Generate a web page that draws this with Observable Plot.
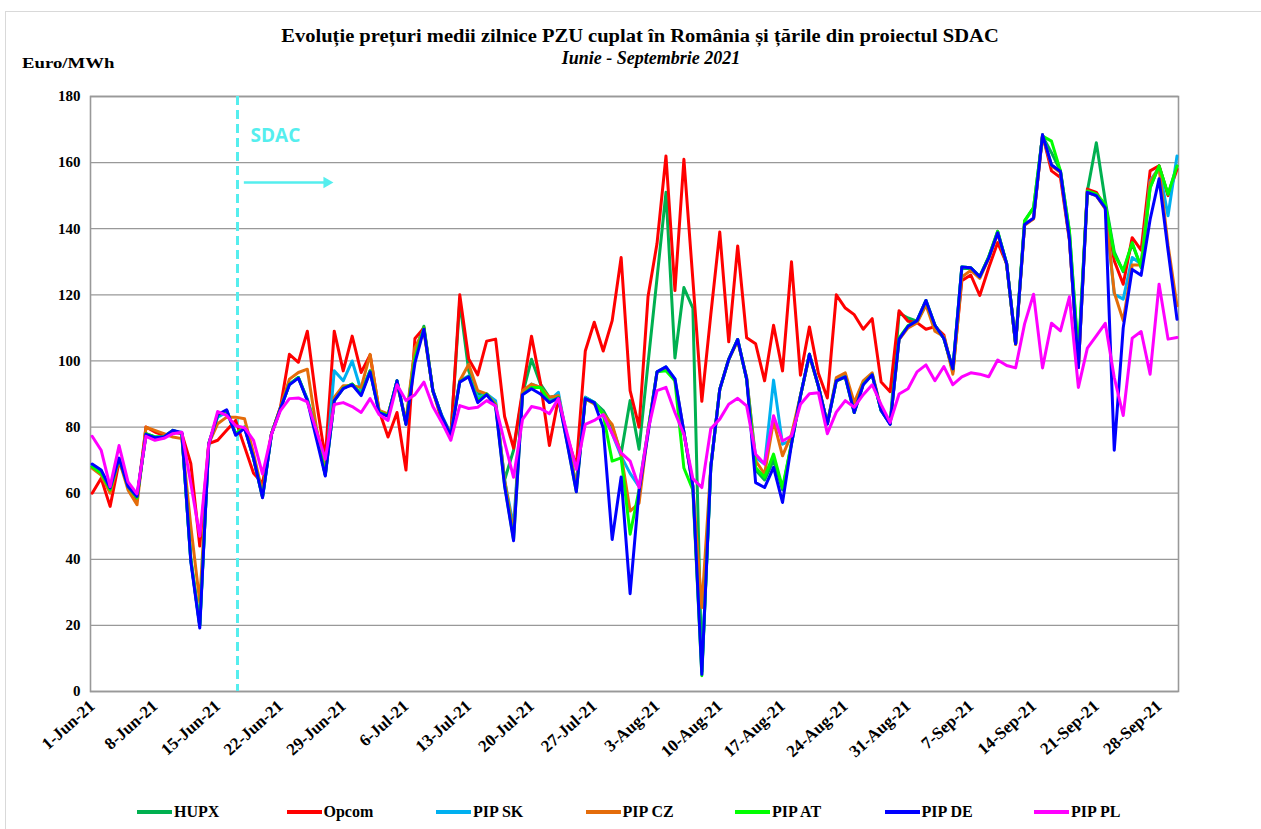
<!DOCTYPE html>
<html><head><meta charset="utf-8">
<script src="https://cdn.jsdelivr.net/npm/d3@7"></script>
<script src="https://cdn.jsdelivr.net/npm/@observablehq/plot@0.6"></script>
<style>
body{margin:0;background:#fff;width:1261px;height:829px;overflow:hidden;position:relative;font-family:"Liberation Serif","Times New Roman",serif;color:#000;}
#border{position:absolute;left:5px;top:11px;width:1300px;height:900px;border:1px solid #d9d9d9;}
#title{position:absolute;left:0;width:1280px;top:26px;text-align:center;font-weight:bold;font-size:18px;line-height:20px;transform:scaleX(1.14);transform-origin:640px 0;}
#subtitle{position:absolute;left:0;width:1302px;top:48px;text-align:center;font-weight:bold;font-style:italic;font-size:18px;line-height:20px;}
#unit{position:absolute;left:22px;top:55px;font-weight:bold;font-size:15px;transform:scaleX(1.25);transform-origin:0 0;}
#chart{position:absolute;left:0;top:80px;}
#legend{position:absolute;left:137px;top:803px;display:flex;}
.item{width:149.5px;display:flex;align-items:center;font-weight:bold;font-size:16px;}
.sw{width:35px;height:4px;margin-right:2px;}
</style>
</head><body>
<div id="border"></div>
<div id="title">Evoluție prețuri medii zilnice PZU cuplat în România și țările din proiectul SDAC</div>
<div id="subtitle">Iunie - Septembrie 2021</div>
<div id="unit">Euro/MWh</div>
<div id="chart"></div>
<div id="legend"></div>
<script>
// Daily prices, 1 Jun 2021 – 30 Sep 2021 (122 days), Euro/MWh
const startDate = "2021-06-01";
const endDate = "2021-10-01";

const HUPX = [68,66.5,61,70.5,62,58.5,78,77,77,79,78,40,20,75,83.5,85,78,80,70.5,58.8,
78,85.6,93,95,88.2,79,65.5,88,91.8,93,90,97,84.6,83.5,94,81,103,110.5,91,83.2,
77.5,118,97,90,90,87,64,73,90,100.5,93,89,89.5,76,62,89,87.5,85,80,72,
88,73.3,99.3,125,151,100.9,122.2,116,6,68,91.4,100.5,106.5,94.5,67,64,70,61,75,89.4,
102,92.4,81,94,95.2,84.4,93,95.8,85,81,114.5,113,112,117,110.8,106.8,97,128,128,125.5,
131.5,139.2,129.4,105.2,142.4,146.4,168,163,157.5,139,101,151.4,166,148.4,133,127,135.5,128.3,152.4,159,
150.4,159];

const Opcom = [60,64.5,56,69.5,63,58,80,78.5,77.5,78.5,78,69,44,75,76,79,82,74,66,63,
78,86,102,99.6,109,88,70.5,109,97,107.5,96.5,101.8,85,77,84.4,67,106.8,110,91,82,
77,120,100.6,95.8,106,106.6,83.2,73.6,91,107.5,93.4,74.4,88.6,77,68,103,111.7,103,112.2,131.3,
91,80,119.5,135.5,162,121.3,161,124.5,87.8,114,139,105.8,134.8,107,105.2,94,110.8,97,130,95.7,
110.3,96.3,88.8,120,116,114,109.6,112.8,93.6,90.7,115.2,112,111.6,109.6,110.4,107.8,96.7,124.3,126,119.8,
128.2,135.8,129.4,105,141.4,143,168.4,157.5,155.5,136.5,98,152,151,146.4,130.3,123.2,137.3,133.5,157.5,159,
150,158];

const PIP_SK = [68.5,66.5,61,70.5,62,59,77.5,77,77,79,78,39.5,20,75,83,84.5,78,80,70.5,59,
78,85.5,93,95,88.5,79,65.5,97,94,100,91,97,85,83.5,94,81,103,109.5,91,83.5,
78,94,95.5,89,90,88,64,50,90,93,92,88,90.5,76,62,89,87.5,84,78,71.2,
66,62,79,96.7,98.2,94.6,78.5,62.2,6,68,91.4,100.5,106.5,94.5,70.8,68.8,94.2,74.8,76,89.4,
102,92.4,81,94.5,95.5,85,93,96,85,81,106.6,110.5,112.2,118.3,110.8,106.8,97.6,128.4,128.2,125.5,
131.2,138.8,129.4,105.2,141.3,143.2,168.4,159.3,157.3,137,98,151,150,146.3,120.2,118.7,131.3,129.3,154.5,158.5,
143.9,162];

const PIP_CZ = [67.5,65.5,60,70,61,56.5,80,79,78,77,76.5,50,27,75,81,83,83,82.5,72,60,
78,86,94.5,96.5,97.5,80,67,89,92.5,92.5,92,102,85,84,93,82,104,109,91,83,
78,94,99,91,90,87,64,48,91,93,92,89,89.5,76,62,88.5,87,84,80.8,71.7,
54.6,57,79,96.5,98,94,78.5,62,25.4,68,91.4,100.5,106,95,69.8,65.8,81.9,71.3,77.8,89.5,
101.5,92.5,81,95,96.4,87.4,94,96.4,85.5,81,106.5,110,111.5,117,109,107.4,96,125.4,127.4,125,
131,138.5,129,105,141,143,168,159,157,137,98,151,150,146,120.7,112.2,129,129,154,158.5,
135,116.7];

const PIP_AT = [68,66,61,70.5,62,58.5,78,77,77,79,78,40,20,75,83.5,85,78,80,70.5,58.8,
78,85.6,93,95,88.2,79,65.5,88,91.8,93,90,97,84.6,83.5,94,81,101,110,91,83.2,
77.5,93.8,95.3,88,90,86.5,62.5,46,89.8,92,92,87.5,89,75,60.5,88.6,87.4,83.8,69.7,70.7,
47.6,61,79,96.7,97,94,67.6,61,4.8,68,91.4,100.5,106.5,94.5,67.8,64.8,71.8,61.7,75,89.4,
102,92.4,81,94,95.2,84.4,93,95.8,85,81,107,110.7,112.2,118.3,110.8,106.8,97.6,128.4,128.2,125.5,
131.5,139.2,129.4,105.2,142.4,146.4,168,166.5,157.5,139.4,102,151.4,150.5,147.4,132.3,127.3,135.8,128.3,152.4,159,
150.4,159];

const PIP_DE = [68.8,67,61.6,70.6,62,59,77.8,76.8,77,79,78.4,39.4,19.2,74.8,83.8,85.2,77.5,79.6,70.6,58.6,
77.8,85.6,92.8,94.8,88,76.6,65.2,88,91.6,92.8,89.5,96.7,84.4,83.2,94,80.8,99.4,109.6,91,83.2,
77.5,93.6,95.2,87.4,89.8,86.2,62.2,45.6,89.8,91.6,90,87.4,88.8,74.8,60.4,88.6,87.4,79.8,46,64.9,
29.6,60.7,78,96.7,98.2,94.6,78.5,62.2,5.2,67.8,91.4,100.5,106.5,94.5,63.2,61.7,67.8,57.2,74.8,89.4,
102,92.4,80.9,94,95.2,84.4,92.8,95.8,85,80.8,106.6,110.5,112.2,118.3,110.8,106.8,97.6,128.4,128.2,125.5,
131.2,138.8,129.4,105.2,141.3,143.2,168.4,159.3,157.3,137,98,151,150,146.3,73,110,127.7,125.9,142.8,155.1,
133.5,112.6];

const PIP_PL = [77.2,73,62,74.4,63.4,59.8,77.2,76,76.6,78,78.4,63,47,74.8,84.7,83.5,80.4,79.8,76,65.8,
77.8,85,88.6,88.8,87.6,79,70.3,86.8,87.4,86.2,84.4,88.6,83.8,82,92.8,88,89.8,93.6,86.2,81.4,
76,86.5,85.6,86,88,86.4,75.4,64.8,82.3,86.2,85.6,84,88.6,77.8,67.2,80.8,82,83.8,78,72.2,
69.7,61.7,79,91,92,84.4,77.8,64.4,61.7,79.5,82.4,86.9,88.7,86.4,71.8,68.8,83.4,75.8,77.3,86.9,
90.1,90.4,78,84.5,88,86,89.8,92.8,86.8,81.4,90,91.6,96.7,98.8,94,98.3,92.8,95.2,96.4,96,
95.2,100.3,98.6,97.9,111.2,120.2,97.9,111.4,109.1,119.4,92,103.9,107.6,111.4,95,83.5,106.9,108.9,96,123.2,
106.6,107.1];

const seriesNames = ["HUPX","Opcom","PIP SK","PIP CZ","PIP AT","PIP DE","PIP PL"];
const seriesColors = ["#00B050","#FF0000","#00B0F0","#E46C0A","#00FF00","#0000FF","#FF00FF"];
const seriesValues = [HUPX, Opcom, PIP_SK, PIP_CZ, PIP_AT, PIP_DE, PIP_PL];

const xTicks = ["2021-06-01","2021-06-08","2021-06-15","2021-06-22","2021-06-29","2021-07-06","2021-07-13",
"2021-07-20","2021-07-27","2021-08-03","2021-08-10","2021-08-17","2021-08-24","2021-08-31",
"2021-09-07","2021-09-14","2021-09-21","2021-09-28"];
const yTicks = [0,20,40,60,80,100,120,140,160,180];

// SDAC annotation
const sdacDate = "2021-06-17T05:00Z";
const sdacArrow = [{start:"2021-06-17T22:00Z", end:"2021-06-27T04:00Z", value:154}];
const sdacLabel = [{date:"2021-06-18T16:00Z", value:168, text:"SDAC"}];
const cyan = "#55EEEE";

const dates = d3.utcDay.range(new Date(startDate), new Date(endDate));
const fmt = d3.utcFormat("%-d-%b-%y");

const lineMarks = seriesValues.map((vals, k) =>
  Plot.line(dates, {x: d => d, y: (d, i) => vals[i], stroke: seriesColors[k], strokeWidth: 3, strokeLinejoin: "round"}));

const chart = Plot.plot({
  width: 1261, height: 690,
  marginTop: 16, marginBottom: 79, marginLeft: 90, marginRight: 83,
  style: {fontFamily: "'Liberation Serif','Times New Roman',serif", fontSize: "15px", fontWeight: "bold", color: "#000", background: "transparent", overflow: "visible"},
  x: {type: "utc", domain: [new Date("2021-05-31T19:30Z"), new Date("2021-09-30T04:00Z")]},
  y: {domain: [0, 180]},
  marks: [
    Plot.gridY(yTicks, {stroke: "#999", strokeOpacity: 1, strokeWidth: 1.3}),
    Plot.frame({stroke: "#999", strokeWidth: 1.6}),
    Plot.axisY(yTicks, {tickSize: 0, tickPadding: 10, label: null, fontWeight: "bold"}),
    Plot.axisX(xTicks.map(d => new Date(d)), {tickSize: 0, tickRotate: -42, tickPadding: 12, tickFormat: fmt, label: null, fontWeight: "bold", fontSize: 17}),
    Plot.ruleX([new Date(sdacDate)], {stroke: cyan, strokeWidth: 3, strokeDasharray: "9,5"}),
    Plot.link(sdacArrow, {x1: d => new Date(d.start), x2: d => new Date(d.end), y1: "value", y2: "value", stroke: cyan, strokeWidth: 2.5}),
    Plot.dot(sdacArrow, {x: d => new Date(d.end), y: "value", symbol: "triangle2", rotate: 90, r: 5.5, fill: cyan}),
    Plot.text(sdacLabel, {x: d => new Date(d.date), y: "value", text: "text", textAnchor: "start", fill: cyan, fontSize: 19, fontWeight: "bold", fontFamily: "'Open Sans',sans-serif"}),
    ...lineMarks
  ]
});
document.getElementById("chart").appendChild(chart);

const legend = document.getElementById("legend");
seriesNames.forEach((n, k) => {
  const it = document.createElement("div");
  it.className = "item";
  const sw = document.createElement("div");
  sw.className = "sw";
  sw.style.background = seriesColors[k];
  const tx = document.createElement("span");
  tx.textContent = n;
  it.appendChild(sw); it.appendChild(tx);
  legend.appendChild(it);
});
</script>
</body></html>
